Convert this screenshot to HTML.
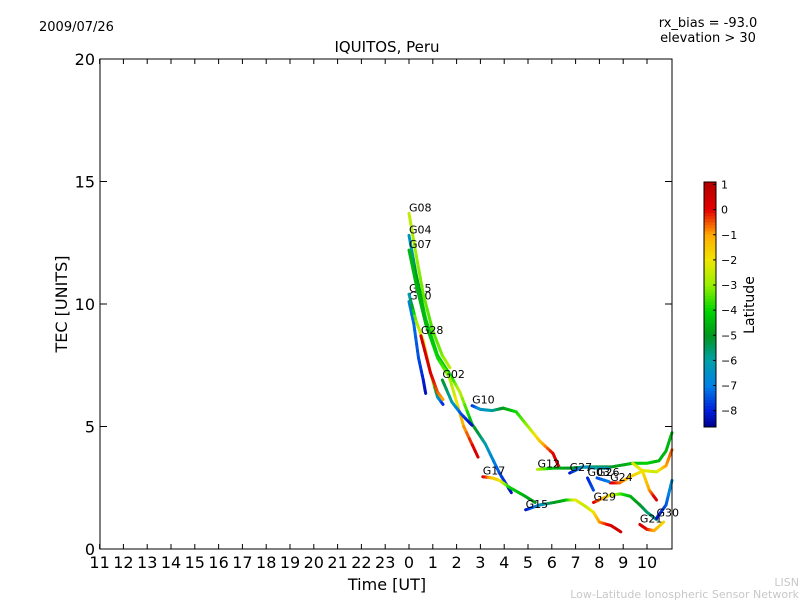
<!DOCTYPE html>
<html><head><meta charset="utf-8"><style>
body{margin:0;background:#fff}
svg{display:block;font-family:"DejaVu Sans","Liberation Sans",sans-serif}
</style></head><body>
<svg id="c" width="800" height="600" viewBox="0 0 800 600">
<rect width="800" height="600" fill="#fff"/>
<text x="39" y="31" font-size="13">2009/07/26</text>
<text x="708" y="27" font-size="13" text-anchor="middle">rx_bias = -93.0</text>
<text x="708" y="42" font-size="13" text-anchor="middle">elevation &gt; 30</text>
<text x="387" y="52" font-size="15" text-anchor="middle">IQUITOS, Peru</text>
<text x="387" y="590" font-size="16" text-anchor="middle">Time [UT]</text>
<text x="67" y="304" font-size="16" text-anchor="middle" transform="rotate(-90 67 304)">TEC [UNITS]</text>
<text x="799" y="586" font-size="11" text-anchor="end" fill="#c8c8c8">LISN</text>
<text x="799" y="598" font-size="11" text-anchor="end" fill="#c8c8c8">Low-Latitude Ionospheric Sensor Network</text>
<g id="plot"></g>
<g id="axes"></g>
<g id="cbar"></g>
</svg>
<script>
const xTickLabels=["11","12","13","14","15","16","17","18","19","20","21","22","23","0","1","2","3","4","5","6","7","8","9","10"];
const yTicks=[0,5,10,15,20];
const cbTicks=[1,0,-1,-2,-3,-4,-5,-6,-7,-8];
const satNames=["G20","G25","G08","G04","G07","G02","G10","G17","G15","G12","G27","G03","G24","","G29","G21","G30","G28","G26"];
const satTimes=[
[0,0.2,0.4,0.6,0.7],
[0,0.3,0.6,0.9,1.2,1.43],
[0,0.3,0.6,1.0,1.4,1.72],
[0,0.3,0.7,1.2,1.8,2.14,2.65,3.2,3.8,4.3],
[0,0.3,0.7,1.2,1.7,2.3,2.9],
[1.4,1.8,2.2,2.65],
[2.65,3.0,3.5,3.95,4.5,5.0,5.5,6.05,6.3],
[3.1,3.5,3.8,4.25,4.8,5.3],
[4.9,5.5,6.1,6.6,7.0,7.4,7.75,8.0,8.5,8.9],
[5.4,6.1,6.8,7.5,8.5,9.4,10.0,10.5,10.8,11.05],
[6.75,7.3,7.9,8.4],
[7.5,7.75],
[8.45,8.85,9.3,9.85,10.4,10.8,11.05],
[9.4,9.8,10.1,10.4],
[7.75,8.45,8.9,9.3,9.7,10.0,10.4],
[9.7,10.0,10.3,10.7],
[10.4,10.8,11.05],
[0.5,0.9,1.2,1.43],
[7.9,8.4]];
const satTec=[
[10.1,9.2,7.8,6.9,6.35],
[10.4,9.3,8.5,7.2,6.2,5.9],
[13.7,12,10.4,8.9,7.9,7.4],
[12.8,11.2,9.4,7.9,7.0,6.4,5.1,4.3,3.1,2.3],
[12.2,10.8,9.2,7.8,7.0,5.0,3.75],
[6.9,6.0,5.5,5.05],
[5.85,5.7,5.65,5.75,5.6,5.0,4.4,3.9,3.35],
[2.95,2.9,2.8,2.5,2.2,1.9],
[1.6,1.8,1.9,2.0,2.0,1.75,1.5,1.1,0.95,0.7],
[3.25,3.3,3.3,3.35,3.35,3.5,3.5,3.6,4.0,4.75],
[3.1,3.35,3.3,3.3],
[2.9,2.4],
[2.7,2.7,2.95,3.2,3.15,3.4,4.05],
[3.5,3.2,2.4,2.0],
[1.9,2.2,2.25,2.15,1.8,1.5,1.2],
[1.0,0.8,0.75,1.1],
[1.25,1.8,2.8],
[8.7,7.2,6.4,6.1],
[2.9,2.75]];
const satLat=[
[-7,-7.2,-7.5,-8,-8.3],
[-6.5,-3,-2,-1,-6,-8],
[-2.5,-3,-3.3,-3.5,-3.2,-2.5],
[-6.5,-5,-4.2,-4.3,-4,-2.5,-4.5,-6,-7.5,-8.3],
[-4.5,-4.5,-4.5,-4,-3,-1,0.5],
[-5,-6,-7.5,-8.3],
[-8,-6.5,-6,-5,-4,-3,-1.5,0,0.6],
[0.5,-1.5,-1.8,-4,-4.5,-5],
[-8.3,-6.5,-5,-4.5,-2,-2.5,-2,-1,0.3,0.6],
[-2.5,-4.5,-5,-5.5,-5,-4.5,-4,-4.5,-4.5,-4.5],
[-8.3,-6.5,-6,-6.5],
[-8,-7.5],
[0.5,-0.5,-1.5,-2,-2.5,-1,-0.5],
[-2.5,-2,-1,0.4],
[0.3,-2,-3.5,-4.5,-5,-5.5,-5.8],
[0.5,0,-1,-1.8],
[-8.3,-7.5,-6.5],
[0.5,0.3,-0.5,-1],
[-7.5,-7]];
const X0=100,X1=672,Y0=59,Y1=549;
const xs=h=>409+h*23.8;
const ys=v=>Y1-(v/20)*(Y1-Y0);
const vmin=-8.65,vmax=1.1;
const stops=[[-8.65,[0,0,140]],[-8,[0,30,220]],[-7,[0,128,230]],[-6,[0,160,170]],[-5,[0,150,30]],[-4,[0,215,0]],[-3,[150,240,0]],[-2,[240,230,0]],[-1,[255,170,0]],[0,[230,0,0]],[1.1,[180,0,0]]];
function colorOf(l){
 if(l<=stops[0][0])return `rgb(${stops[0][1]})`;
 for(let i=0;i<stops.length-1;i++){const a=stops[i],b=stops[i+1];
  if(l<=b[0]){const t=(l-a[0])/(b[0]-a[0]);return 'rgb('+a[1].map((v,k)=>Math.round(v+(b[1][k]-v)*t)).join(',')+')';}}
 return `rgb(${stops[stops.length-1][1]})`;}
const NS="http://www.w3.org/2000/svg";
function mk(tag,attrs,parent){const e=document.createElementNS(NS,tag);for(const k in attrs)e.setAttribute(k,attrs[k]);parent.appendChild(e);return e;}
const plot=document.getElementById('plot');
for(let s=0;s<satNames.length;s++){
 const g=mk('g',{},plot);
 
 
 const T=satTimes[s],V=satTec[s],L=satLat[s];
 for(let i=0;i<T.length-1;i++){
  const n=5;
  for(let k=0;k<n;k++){
   const a=k/n,b=(k+1)/n;
   const seg=mk('line',{x1:xs(T[i]+(T[i+1]-T[i])*a),y1:ys(V[i]+(V[i+1]-V[i])*a),x2:xs(T[i]+(T[i+1]-T[i])*b),y2:ys(V[i]+(V[i+1]-V[i])*b),stroke:colorOf(L[i]+(L[i+1]-L[i])*(a+b)/2),'stroke-width':3,'stroke-linecap':'round'},g);
   
   
  }
 }
 if(satNames[s]){
  const lb=mk('text',{x:xs(T[0]),y:ys(V[0])-2,'font-size':11},g);
  lb.textContent=satNames[s];
  
  
 }
}
const ax=document.getElementById('axes');
const frame=mk('rect',{x:X0,y:Y0,width:X1-X0,height:Y1-Y0,fill:'none',stroke:'#000','stroke-width':1},ax);


xTickLabels.forEach((t,i)=>{
 const x=xs(i-13);
 mk('line',{x1:x,y1:Y1,x2:x,y2:Y1-5,stroke:'#000'},ax);
 mk('line',{x1:x,y1:Y0,x2:x,y2:Y0+5,stroke:'#000'},ax);
 const e=mk('text',{x:x,y:568,'font-size':16,'text-anchor':'middle'},ax);
 e.textContent=t;
 
 
});
yTicks.forEach(v=>{
 const y=ys(v);
 mk('line',{x1:X0,y1:y,x2:X0+7,y2:y,stroke:'#000'},ax);
 mk('line',{x1:X1,y1:y,x2:X1-7,y2:y,stroke:'#000'},ax);
 const e=mk('text',{x:95,y:y+6,'font-size':16,'text-anchor':'end'},ax);
 e.textContent=v;
 
 
});
const cb=document.getElementById('cbar');
const cy0=182,cy1=427,cx=704,cw=12;
const cys=l=>cy1-(l-vmin)/(vmax-vmin)*(cy1-cy0);
for(let i=0;i<80;i++){
 const l=vmin+(i+0.5)/80*(vmax-vmin);
 mk('rect',{x:cx,y:cy1-(i+1)/80*(cy1-cy0),width:cw,height:(cy1-cy0)/80+0.5,fill:colorOf(l)},cb);
}
const cbf=mk('rect',{x:cx,y:cy0,width:cw,height:cy1-cy0,fill:'none',stroke:'#000'},cb);


cbTicks.forEach(l=>{
 const y=cys(l);
 mk('line',{x1:cx+cw-3,y1:y,x2:cx+cw,y2:y,stroke:'#000'},cb);
 const e=mk('text',{x:721,y:y+4,'font-size':11},cb);
 e.textContent=l<0?'\u2212'+(-l):String(l);
 
 
});
const ct=mk('text',{x:754,y:305,'font-size':14,'text-anchor':'middle',transform:'rotate(-90 754 305)'},cb);
ct.textContent='Latitude';


</script>
</body></html>
